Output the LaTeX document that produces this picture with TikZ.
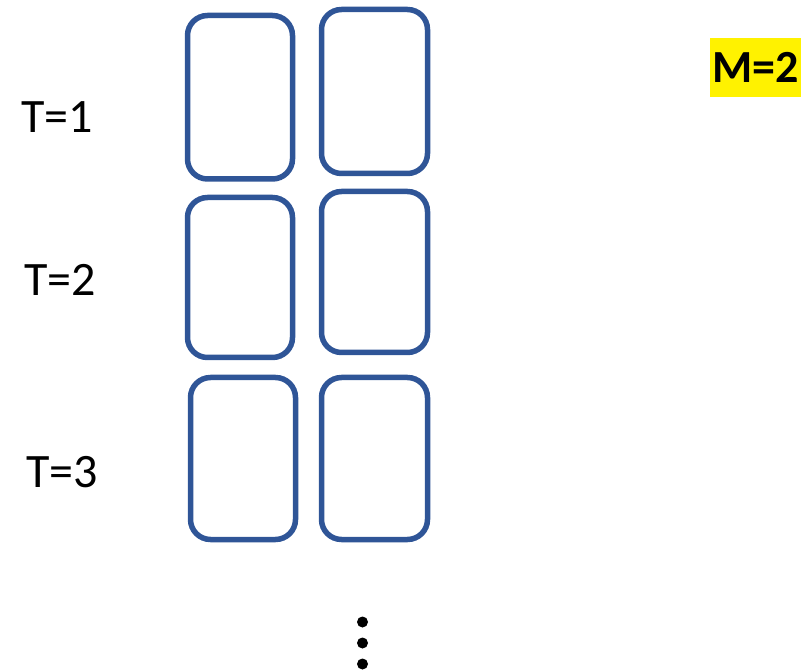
\documentclass[tikz,border=0pt]{standalone}
\usepackage{fontspec}
\setmainfont{Carlito}
\definecolor{boxblue}{RGB}{47,85,151}
\begin{document}
\begin{tikzpicture}[x=1pt,y=-1pt,
  cell/.style={draw=boxblue, line width=5.5pt, rounded corners=20pt, minimum width=105pt, inner sep=0pt},
  tlabel/.style={font=\fontsize{48}{52}\selectfont, inner sep=0pt, anchor=center},
  mlabel/.style={font=\fontsize{46}{50}\selectfont\bfseries, fill=yellow, inner sep=0pt, minimum width=91pt, minimum height=59pt}]
\useasboundingbox (0,0) rectangle (807,671);
% row 1
\node[cell, minimum height=163.5pt] (r1c1) at (240,97.25) {};
\node[cell, minimum width=106pt, minimum height=164pt] (r1c2) at (374.5,91.5) {};
% row 2
\node[cell, minimum height=160pt] (r2c1) at (240,277.5) {};
\node[cell, minimum width=106pt, minimum height=161pt] (r2c2) at (374.5,272) {};
% row 3
\node[cell, minimum height=162pt] (r3c1) at (243,458.5) {};
\node[cell, minimum width=106pt, minimum height=162pt] (r3c2) at (374.5,458.5) {};
% labels
\node[tlabel] (t1) at (57,117) {T=1};
\node[tlabel] (t2) at (60,280) {T=2};
\node[tlabel] (t3) at (62,472) {T=3};
\node[mlabel] (m) at (755.5,67.5) {M=2};
% dots
\fill (362.5,622) circle (5.5);
\fill (362.5,643) circle (5.5);
\fill (362.5,664) circle (5.5);
\end{tikzpicture}
\end{document}
